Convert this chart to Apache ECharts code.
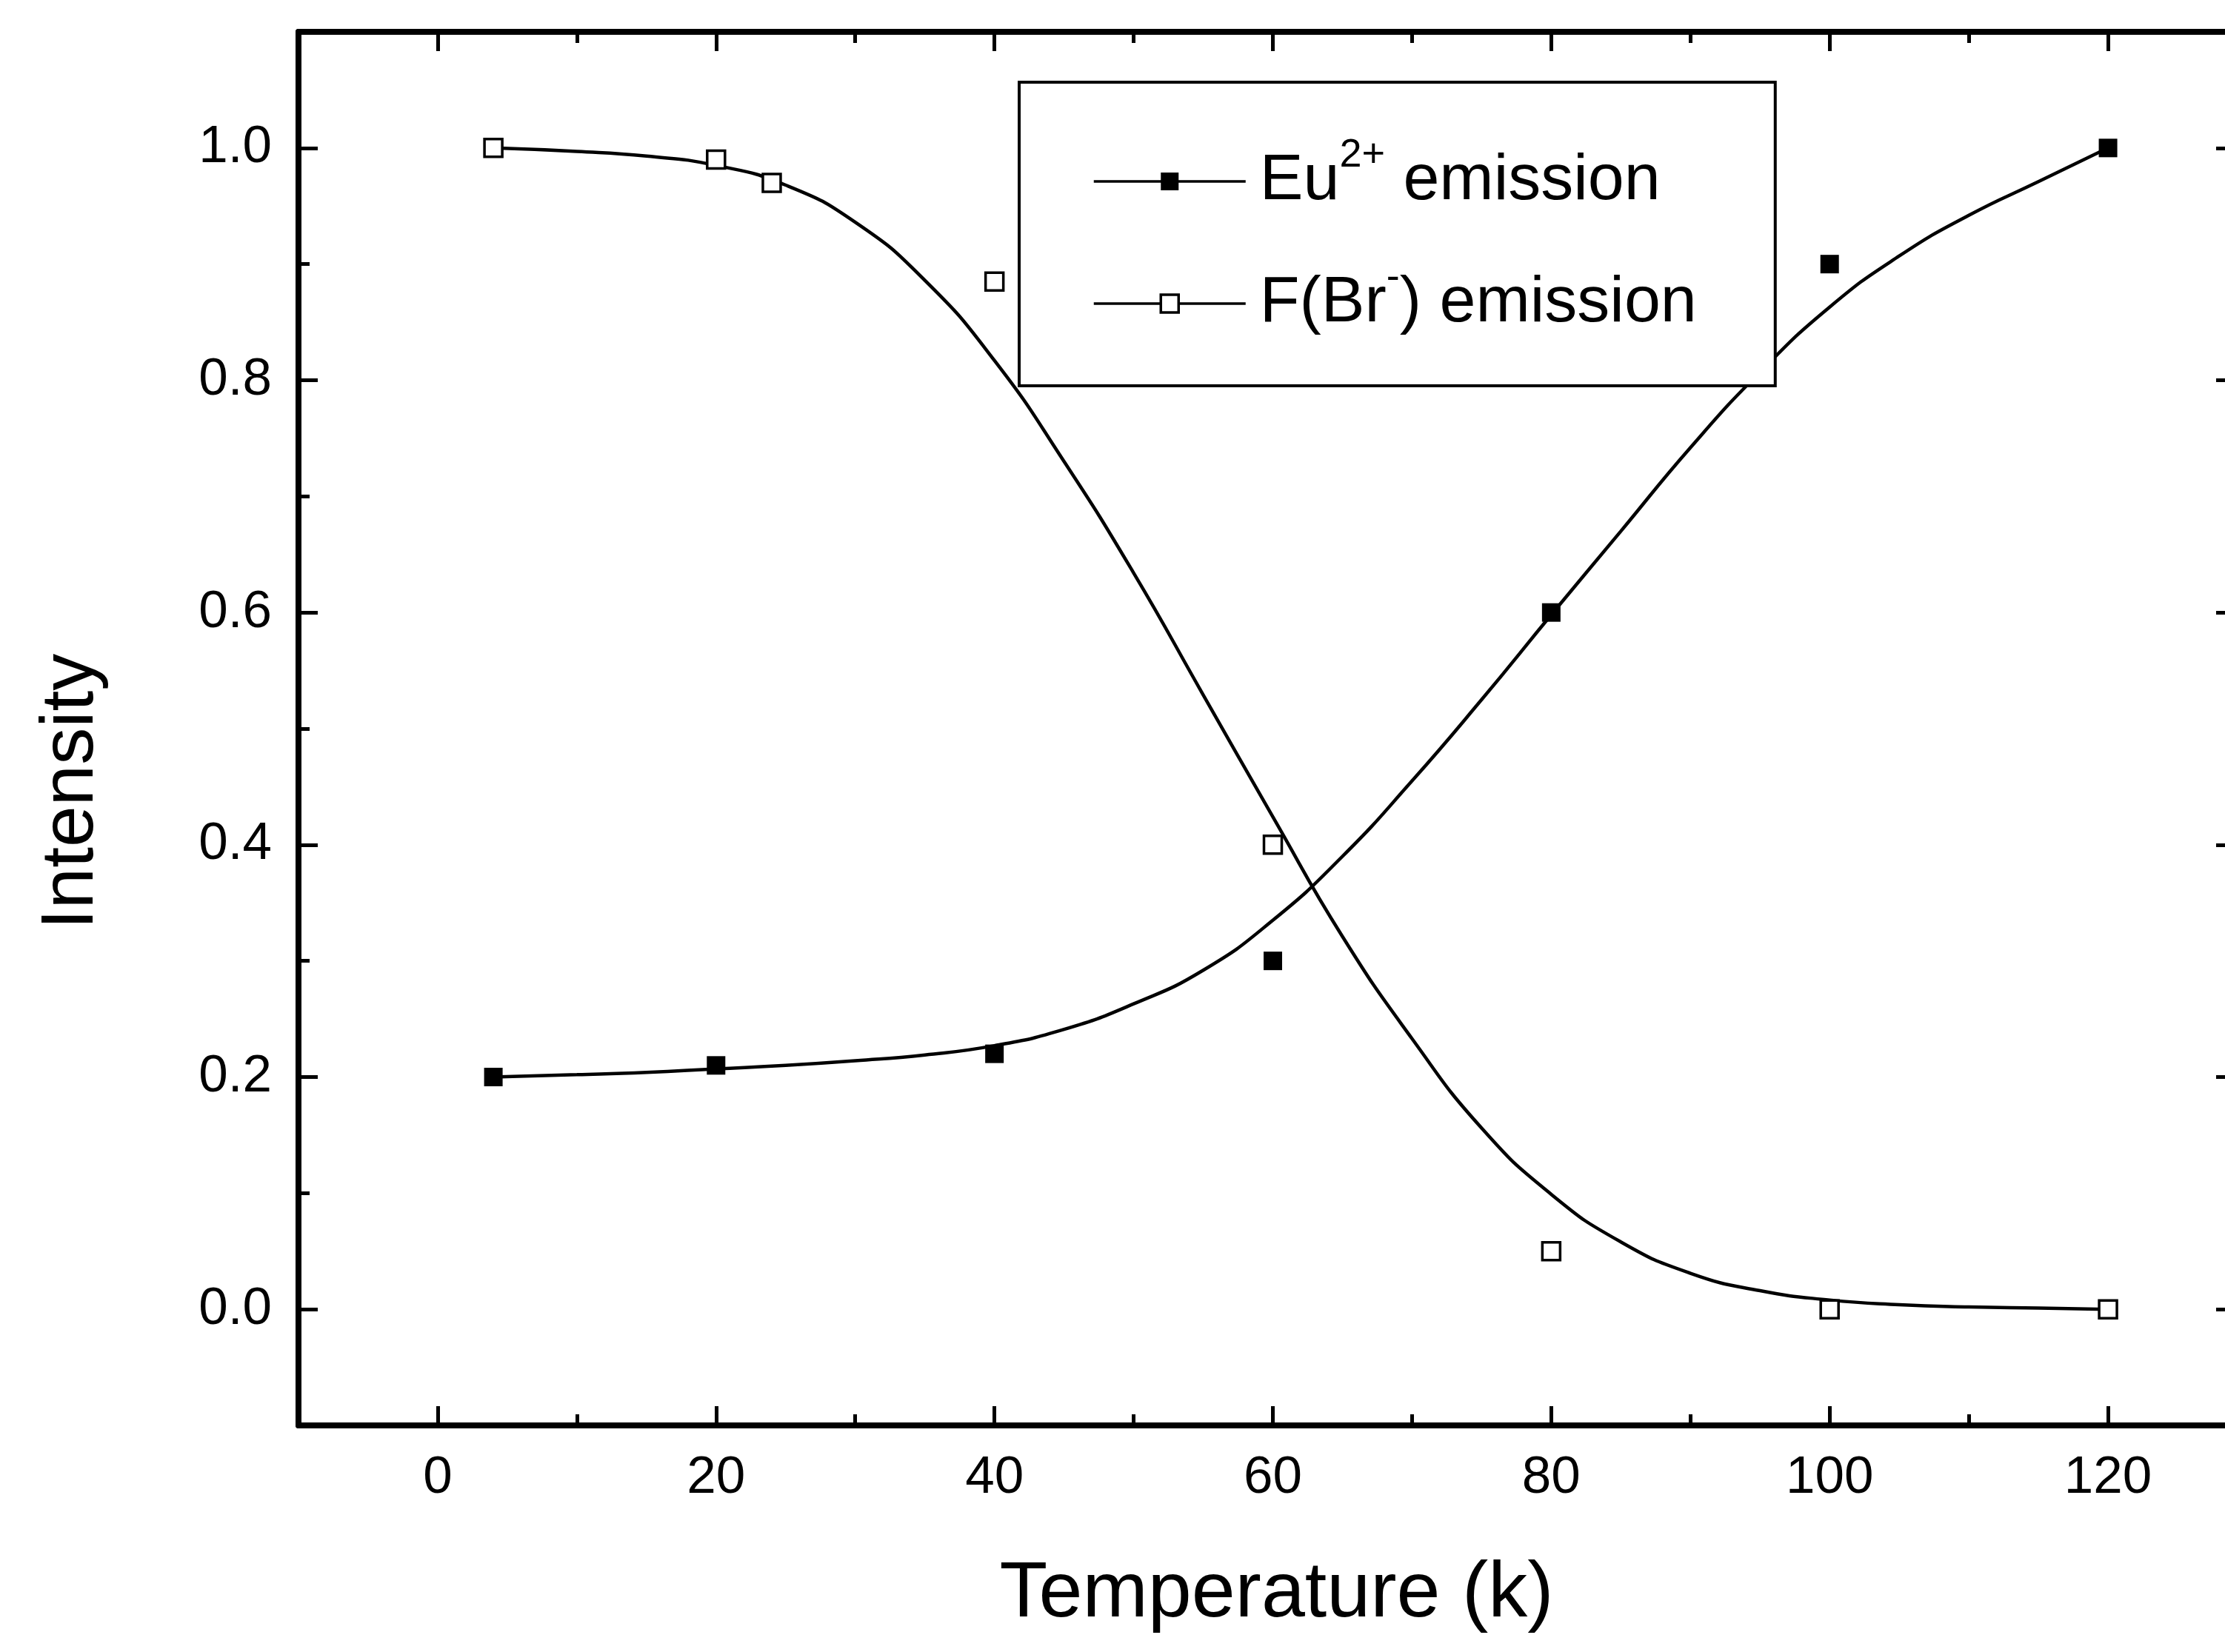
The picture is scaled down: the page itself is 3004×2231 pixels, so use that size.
<!DOCTYPE html>
<html>
<head>
<meta charset="utf-8">
<script src="https://cdn.jsdelivr.net/npm/echarts@6/dist/echarts.min.js"></script>
<style>
  html, body { margin: 0; padding: 0; background: #fff; }
  #chart { width: 3004px; height: 2231px; }
</style>
</head>
<body>
<div id="chart"></div>
<script>
// Measured points: Eu2+ emission (filled squares)
const euTemperature = [4, 20, 40, 60, 80, 100, 120];
const euIntensity   = [0.20, 0.21, 0.22, 0.30, 0.60, 0.90, 1.00];

// Measured points: F(Br-) emission (open squares)
const fbrTemperature = [4, 20, 24, 40, 60, 80, 100, 120];
const fbrIntensity   = [1.00, 0.99, 0.97, 0.885, 0.40, 0.05, 0.00, 0.00];

// Sigmoidal fit curve through the Eu2+ data
const euFitTemperature = [4, 10, 15, 20, 25, 30, 35, 40, 45, 50, 55, 60, 65, 70, 75, 80, 85, 90, 95, 100, 105, 110, 115, 120];
const euFitIntensity   = [0.200, 0.202, 0.204, 0.207, 0.210, 0.214, 0.219, 0.227, 0.241, 0.263, 0.292, 0.335, 0.390, 0.455, 0.525, 0.598, 0.670, 0.742, 0.807, 0.863, 0.907, 0.942, 0.971, 1.000];

// Sigmoidal fit curve through the F(Br-) data
const fbrFitTemperature = [4, 10, 15, 20, 25, 30, 35, 40, 45, 50, 55, 60, 65, 70, 75, 80, 85, 90, 95, 100, 105, 110, 115, 120];
const fbrFitIntensity   = [1.000, 0.997, 0.993, 0.985, 0.968, 0.936, 0.886, 0.817, 0.730, 0.634, 0.529, 0.424, 0.321, 0.233, 0.156, 0.099, 0.058, 0.031, 0.016, 0.008, 0.004, 0.002, 0.001, 0.000];

// Axis ranges and labels
const xRange = [-10, 130];
const yRange = [-0.1, 1.1];
const seriesNames = ['Eu2+ emission', 'F(Br-) emission'];
const legendLabels = {
  'Eu2+ emission': 'Eu{sup|2+} emission',
  'F(Br-) emission': 'F(Br{sup|-}) emission'
};
const xTitle = 'Temperature (k)';
const yTitle = 'Intensity';

const FONT = '"Liberation Sans", Arial, Helvetica, sans-serif';
const pairs = (xs, ys) => xs.map((x, i) => [x, ys[i]]);

const frameLine = { color: '#000', width: 8 };
const tickLine = { color: '#000', width: 5 };

function xAxisBase(position) {
  return {
    type: 'value', position: position,
    min: xRange[0], max: xRange[1],
    splitNumber: 7, minInterval: 20, maxInterval: 20,
    axisLine: { show: true, onZero: false, lineStyle: frameLine },
    axisTick: { show: true, inside: true, length: 26, lineStyle: tickLine },
    minorTick: { show: true, splitNumber: 2, length: 15, lineStyle: tickLine },
    splitLine: { show: false },
    minorSplitLine: { show: false }
  };
}
function yAxisBase(position, tickLen, minorLen) {
  return {
    type: 'value', position: position,
    min: yRange[0], max: yRange[1],
    splitNumber: 6, minInterval: 0.2, maxInterval: 0.2,
    axisLine: { show: true, onZero: false, lineStyle: frameLine },
    axisTick: { show: true, inside: true, length: tickLen, lineStyle: tickLine },
    minorTick: { show: true, splitNumber: 2, length: minorLen, lineStyle: tickLine },
    splitLine: { show: false },
    minorSplitLine: { show: false }
  };
}

const xBottom = Object.assign(xAxisBase('bottom'), {
  axisLabel: {
    margin: 36, fontSize: 71, color: '#000', fontFamily: FONT,
    formatter: v => (v % 20 === 0 ? String(v) : '')
  },
  name: xTitle, nameLocation: 'middle', nameGap: 176,
  nameTextStyle: { fontSize: 106, color: '#000', fontFamily: FONT, padding: [0, 0, 0, 10] }
});
const xTop = Object.assign(xAxisBase('top'), { axisLabel: { show: false } });

const yLeft = Object.assign(yAxisBase('left', 26, 15), {
  axisLabel: {
    margin: 36, fontSize: 71, color: '#000', fontFamily: FONT,
    formatter: v => (Math.round(v * 10) % 2 === 0 ? v.toFixed(1) : '')
  },
  name: yTitle, nameLocation: 'middle', nameGap: 256, nameRotate: 90,
  nameTextStyle: { fontSize: 100, color: '#000', fontFamily: FONT, padding: [0, 170, 0, 0] }
});
const yRight = Object.assign(yAxisBase('right', 42, 15), { axisLabel: { show: false } });

const option = {
  animation: false,
  backgroundColor: '#fff',
  grid: { left: 403, right: -30, top: 43, bottom: 306, containLabel: false, outerBoundsMode: 'none' },
  xAxis: [xBottom, xTop],
  yAxis: [yLeft, yRight],
  legend: {
    orient: 'vertical', left: 1376, top: 111,
    selectedMode: false,
    data: [
      { name: seriesNames[0], itemStyle: { color: '#000', borderColor: '#000', borderWidth: 0 } },
      { name: seriesNames[1], itemStyle: { color: '#fff', borderColor: '#000', borderWidth: 3.5 } }
    ],
    itemWidth: 205, itemHeight: 30, itemGap: 41,
    padding: [72, 106, 49, 99],
    backgroundColor: '#fff', borderColor: '#000', borderWidth: 4,
    lineStyle: { color: '#000', width: 3.5, opacity: 1 },
    formatter: name => legendLabels[name],
    textStyle: {
      fontFamily: FONT, fontSize: 88, color: '#000', lineHeight: 124,
      padding: [0, 0, 0, 14],
      rich: {
        sup: { fontFamily: FONT, fontSize: 54, color: '#000', verticalAlign: 'top' }
      }
    }
  },
  series: [
    {
      name: 'Eu2+ fit', type: 'line', data: pairs(euFitTemperature, euFitIntensity),
      smooth: 0.5, showSymbol: false, silent: true,
      lineStyle: { color: '#000', width: 4.5 }, z: 2
    },
    {
      name: 'F(Br-) fit', type: 'line', data: pairs(fbrFitTemperature, fbrFitIntensity),
      smooth: 0.5, showSymbol: false, silent: true,
      lineStyle: { color: '#000', width: 4.5 }, z: 2
    },
    {
      name: seriesNames[0], type: 'line', data: pairs(euTemperature, euIntensity),
      symbol: 'rect', symbolSize: 25, showSymbol: true,
      itemStyle: { color: '#000' },
      lineStyle: { color: '#000', opacity: 0 }, z: 3
    },
    {
      name: seriesNames[1], type: 'line', data: pairs(fbrTemperature, fbrIntensity),
      symbol: 'rect', symbolSize: 24, showSymbol: true,
      itemStyle: { color: '#fff', borderColor: '#000', borderWidth: 3.5 },
      lineStyle: { color: '#000', opacity: 0 }, z: 3
    }
  ]
};

const chart = echarts.init(document.getElementById('chart'), null, { renderer: 'canvas' });
chart.setOption(option);
</script>
</body>
</html>
